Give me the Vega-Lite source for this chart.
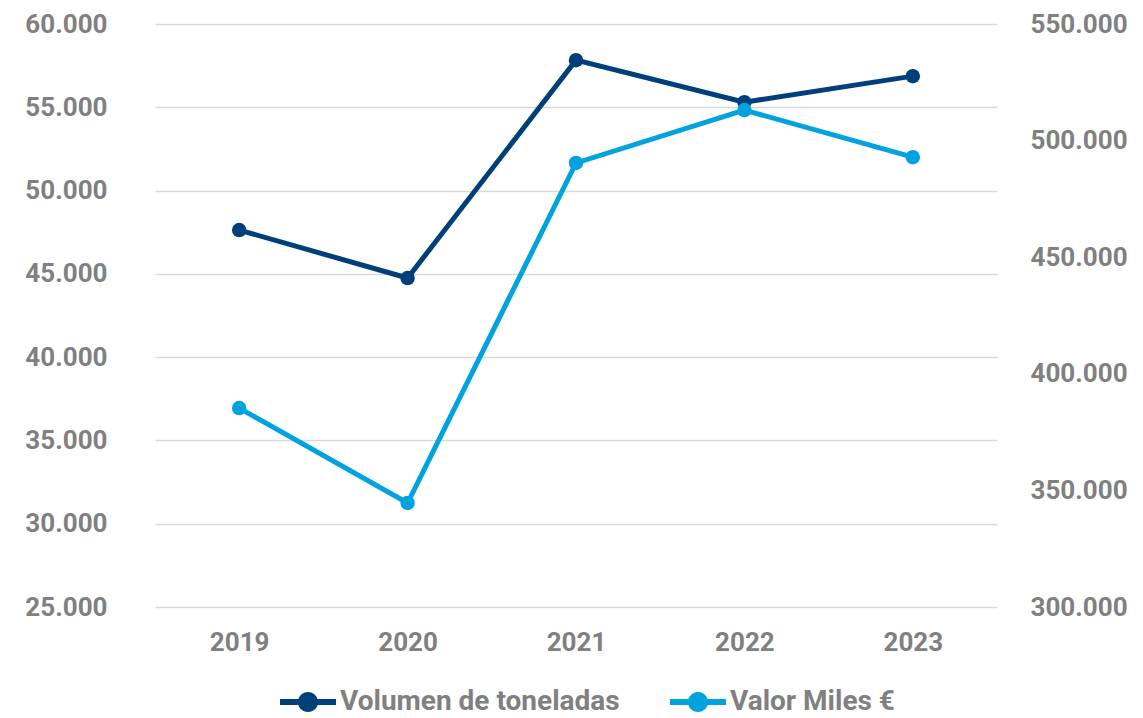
{
  "$schema": "https://vega.github.io/schema/vega-lite/v6.json",
  "width": 842,
  "height": 583,
  "autosize": {"type": "none"},
  "padding": {"left": 155, "top": 24, "right": 146, "bottom": 111},
  "background": "white",
  "config": {
    "view": {"stroke": null},
    "font": "Roboto",
    "axis": {"labelFont": "Roboto", "labelFontWeight": "bold", "labelFontSize": 26, "labelColor": "#808080", "domain": false, "ticks": false, "title": null}
  },
  "data": {
    "values": [
      {"year": "2019", "vol": 47630, "val": 385300},
      {"year": "2020", "vol": 44750, "val": 344600},
      {"year": "2021", "vol": 57830, "val": 490400},
      {"year": "2022", "vol": 55310, "val": 513100},
      {"year": "2023", "vol": 56870, "val": 492900}
    ]
  },
  "encoding": {
    "x": {"field": "year", "type": "ordinal", "scale": {"type": "point", "padding": 0.5}, "axis": {"labelAngle": 0, "labelPadding": 22, "grid": false}}
  },
  "layer": [
    {
      "encoding": {
        "y": {"field": "vol", "type": "quantitative", "scale": {"domain": [25000, 60000], "nice": false, "zero": false},
          "axis": {"orient": "left", "values": [25000, 30000, 35000, 40000, 45000, 50000, 55000, 60000], "labelExpr": "replace(format(datum.value, ','), ',', '.')", "labelPadding": 48, "grid": true, "gridColor": "#D9D9D9", "gridWidth": 1.5}},
        "color": {"datum": "Volumen de toneladas", "type": "nominal",
          "scale": {"domain": ["Volumen de toneladas", "Valor Miles €"], "range": ["#00407A", "#00A3DE"]},
          "legend": {"orient": "none", "legendX": 125, "legendY": 650, "direction": "horizontal", "title": null,
            "symbolType": "M-1,-0.11H1V0.11H-1Z M0.36,0A0.36,0.36,0,1,1,-0.36,0A0.36,0.36,0,1,1,0.36,0Z",
            "symbolSize": 3136, "symbolStrokeWidth": 0, "symbolOpacity": 1,
            "labelFont": "Roboto", "labelFontWeight": "bold", "labelFontSize": 28, "labelColor": "#808080", "labelOffset": 4, "labelLimit": 0, "columnPadding": 50,
            "encode": {"symbols": {"update": {"fill": {"scale": "color", "field": "value"}, "strokeWidth": {"value": 0}, "opacity": {"value": 1}}}}}}
      },
      "layer": [
        {"mark": {"type": "line", "strokeWidth": 5}},
        {"mark": {"type": "circle", "size": 210, "opacity": 1}}
      ]
    },
    {
      "encoding": {
        "y": {"field": "val", "type": "quantitative", "scale": {"domain": [300000, 550000], "nice": false, "zero": false},
          "axis": {"orient": "right", "values": [300000, 350000, 400000, 450000, 500000, 550000], "labelExpr": "replace(format(datum.value, ','), ',', '.')", "labelPadding": 33, "grid": false}},
        "color": {"datum": "Valor Miles €", "type": "nominal"}
      },
      "layer": [
        {"mark": {"type": "line", "strokeWidth": 5}},
        {"mark": {"type": "circle", "size": 210, "opacity": 1}}
      ]
    }
  ],
  "resolve": {"scale": {"y": "independent"}}
}
